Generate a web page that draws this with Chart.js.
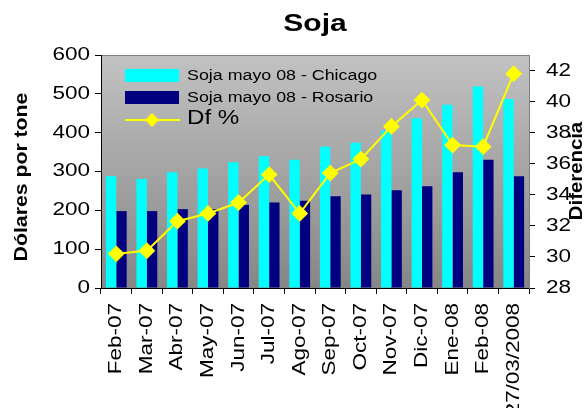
<!DOCTYPE html>
<html>
<head>
<meta charset="utf-8">
<script src="https://cdn.jsdelivr.net/npm/chart.js@4/dist/chart.umd.min.js"></script>
<style>
  html, body { margin: 0; padding: 0; background: #fff; }
  #wrap { width: 586px; height: 408px; }
</style>
</head>
<body>
<div id="wrap"><canvas id="myChart" width="586" height="408"></canvas></div>
<script>
// data
const categories = ['Feb-07', 'Mar-07', 'Abr-07', 'May-07', 'Jun-07', 'Jul-07', 'Ago-07',
    'Sep-07', 'Oct-07', 'Nov-07', 'Dic-07', 'Ene-08', 'Feb-08', '27/03/2008'];
const chicago = [288, 281, 298, 308, 324, 339, 330, 364, 374, 405, 437, 472, 519, 487];
const rosario = [198, 198, 203, 203, 214, 220, 225, 236, 241, 252, 262, 298, 330, 288];
const difPct = [30.2, 30.4, 32.3, 32.8, 33.5, 35.3, 32.8, 35.4, 36.3, 38.4, 40.1, 37.2, 37.1, 41.8];
const leftTicks = [0, 100, 200, 300, 400, 500, 600];
const rightTicks = [28, 30, 32, 34, 36, 38, 40, 42];

const FONT = "'Liberation Sans', Arial, sans-serif";

let ctx = document.getElementById('myChart').getContext('2d');

// the original text is drawn wide and tight, so stretch glyphs along the text direction
let textStretch = 1.25;
const rawFillText = ctx.fillText.bind(ctx);
ctx.fillText = function (text, x, y, maxWidth) {
    this.save();
    this.translate(x, y);
    this.scale(textStretch, 1);
    rawFillText(text, 0, 0);
    this.restore();
};

// gray gradient behind the plot
const plotBg = {
    id: 'plotBg',
    beforeDraw(chart) {
        const { ctx, chartArea: a } = chart;
        textStretch = 1.25;
        const g = ctx.createLinearGradient(0, a.top, 0, a.bottom);
        g.addColorStop(0, '#c2c2c2');
        g.addColorStop(1, '#868686');
        ctx.save();
        ctx.fillStyle = g;
        ctx.fillRect(a.left, a.top, a.right - a.left, a.bottom - a.top);
        ctx.strokeStyle = '#808080';
        ctx.lineWidth = 1;
        ctx.beginPath();
        ctx.moveTo(a.left, a.top + 0.5);
        ctx.lineTo(a.right, a.top + 0.5);
        ctx.stroke();
        ctx.restore();
    }
};

// legend inside the plot + axis titles
const extras = {
    id: 'extras',
    afterDraw(chart) {
        const ctx = chart.ctx;
        const ds = chart.data.datasets;
        ctx.save();
        ctx.textBaseline = 'middle';
        ctx.textAlign = 'left';
        textStretch = 1.15;
        // bar entries
        [0, 1].forEach((i) => {
            const y = 69 + i * 22;
            ctx.fillStyle = ds[i].backgroundColor;
            ctx.fillRect(125, y, 54, 13);
            ctx.fillStyle = '#000';
            ctx.font = '15.5px ' + FONT;
            ctx.fillText(ds[i].label, 187, y + 7);
        });
        // line entry
        const ly = 120;
        ctx.strokeStyle = ds[2].borderColor;
        ctx.lineWidth = 2;
        ctx.beginPath();
        ctx.moveTo(125, ly);
        ctx.lineTo(180, ly);
        ctx.stroke();
        ctx.fillStyle = ds[2].pointBackgroundColor;
        ctx.beginPath();
        ctx.moveTo(152, ly - 7);
        ctx.lineTo(159, ly);
        ctx.lineTo(152, ly + 7);
        ctx.lineTo(145, ly);
        ctx.closePath();
        ctx.fill();
        ctx.fillStyle = '#000';
        ctx.font = '21px ' + FONT;
        ctx.fillText(ds[2].label, 187, ly - 2);

        // axis titles
        ctx.font = 'bold 18px ' + FONT;
        ctx.textAlign = 'center';
        ctx.textBaseline = 'alphabetic';
        textStretch = 1.18;
        ctx.save();
        ctx.translate(27, 177);
        ctx.rotate(-Math.PI / 2);
        ctx.fillText('Dólares por tone', 0, 0);
        ctx.restore();
        textStretch = 1.13;
        ctx.save();
        ctx.translate(582, 171);
        ctx.rotate(-Math.PI / 2);
        ctx.fillText('Diferencia', 0, 0);
        ctx.restore();
        ctx.restore();
        textStretch = 1.25;
    }
};

let myChart = new Chart(ctx, {
    type: 'bar',
    data: {
        labels: categories,
        datasets: [{
            label: 'Soja mayo 08 - Chicago',
            data: chicago,
            backgroundColor: '#00ffff',
            yAxisID: 'y',
            order: 1,
            categoryPercentage: 0.68,
            barPercentage: 1
        }, {
            label: 'Soja mayo 08 - Rosario',
            data: rosario,
            backgroundColor: '#000080',
            yAxisID: 'y',
            order: 1,
            categoryPercentage: 0.68,
            barPercentage: 1
        }, {
            type: 'line',
            label: 'Df %',
            data: difPct,
            borderColor: '#ffff00',
            backgroundColor: '#ffff00',
            pointBackgroundColor: '#ffff00',
            pointBorderColor: '#ffff00',
            pointStyle: 'rectRot',
            pointRadius: 7,
            borderWidth: 2,
            yAxisID: 'y1',
            order: -1
        }]
    },
    options: {
        responsive: false,
        animation: false,
        events: [],
        layout: { padding: 0 },
        plugins: {
            legend: { display: false },
            tooltip: { enabled: false },
            title: {
                display: true,
                fullSize: false,
                text: 'Soja',
                color: '#000',
                font: { family: FONT, size: 24, weight: 'bold' },
                padding: { top: 10, bottom: 16.2 }
            }
        },
        scales: {
            x: {
                offset: true,
                grid: { offset: true, drawOnChartArea: false, color: '#000', tickLength: 6 },
                border: { color: '#000' },
                ticks: {
                    color: '#000', font: { family: FONT, size: 18 },
                    minRotation: 90, maxRotation: 90, padding: 9, autoSkip: false
                },
                afterFit: (s) => { s.height = 120; }
            },
            y: {
                position: 'left',
                min: leftTicks[0],
                max: leftTicks[leftTicks.length - 1],
                afterBuildTicks: (s) => { s.ticks = leftTicks.map((v) => ({ value: v })); },
                grid: { drawOnChartArea: false, color: '#000', tickLength: 6 },
                border: { color: '#000' },
                ticks: { color: '#000', font: { family: FONT, size: 18 }, padding: 5 },
                afterFit: (s) => { s.width = 101; }
            },
            y1: {
                position: 'right',
                min: 28,
                max: 43,
                afterBuildTicks: (s) => { s.ticks = rightTicks.map((v) => ({ value: v })); },
                grid: { drawOnChartArea: false, color: '#000', tickLength: 6 },
                border: { color: '#808080' },
                ticks: { color: '#000', font: { family: FONT, size: 18 }, padding: 11 },
                afterFit: (s) => { s.width = 57; }
            }
        }
    },
    plugins: [plotBg, extras]
});
</script>
</body>
</html>
